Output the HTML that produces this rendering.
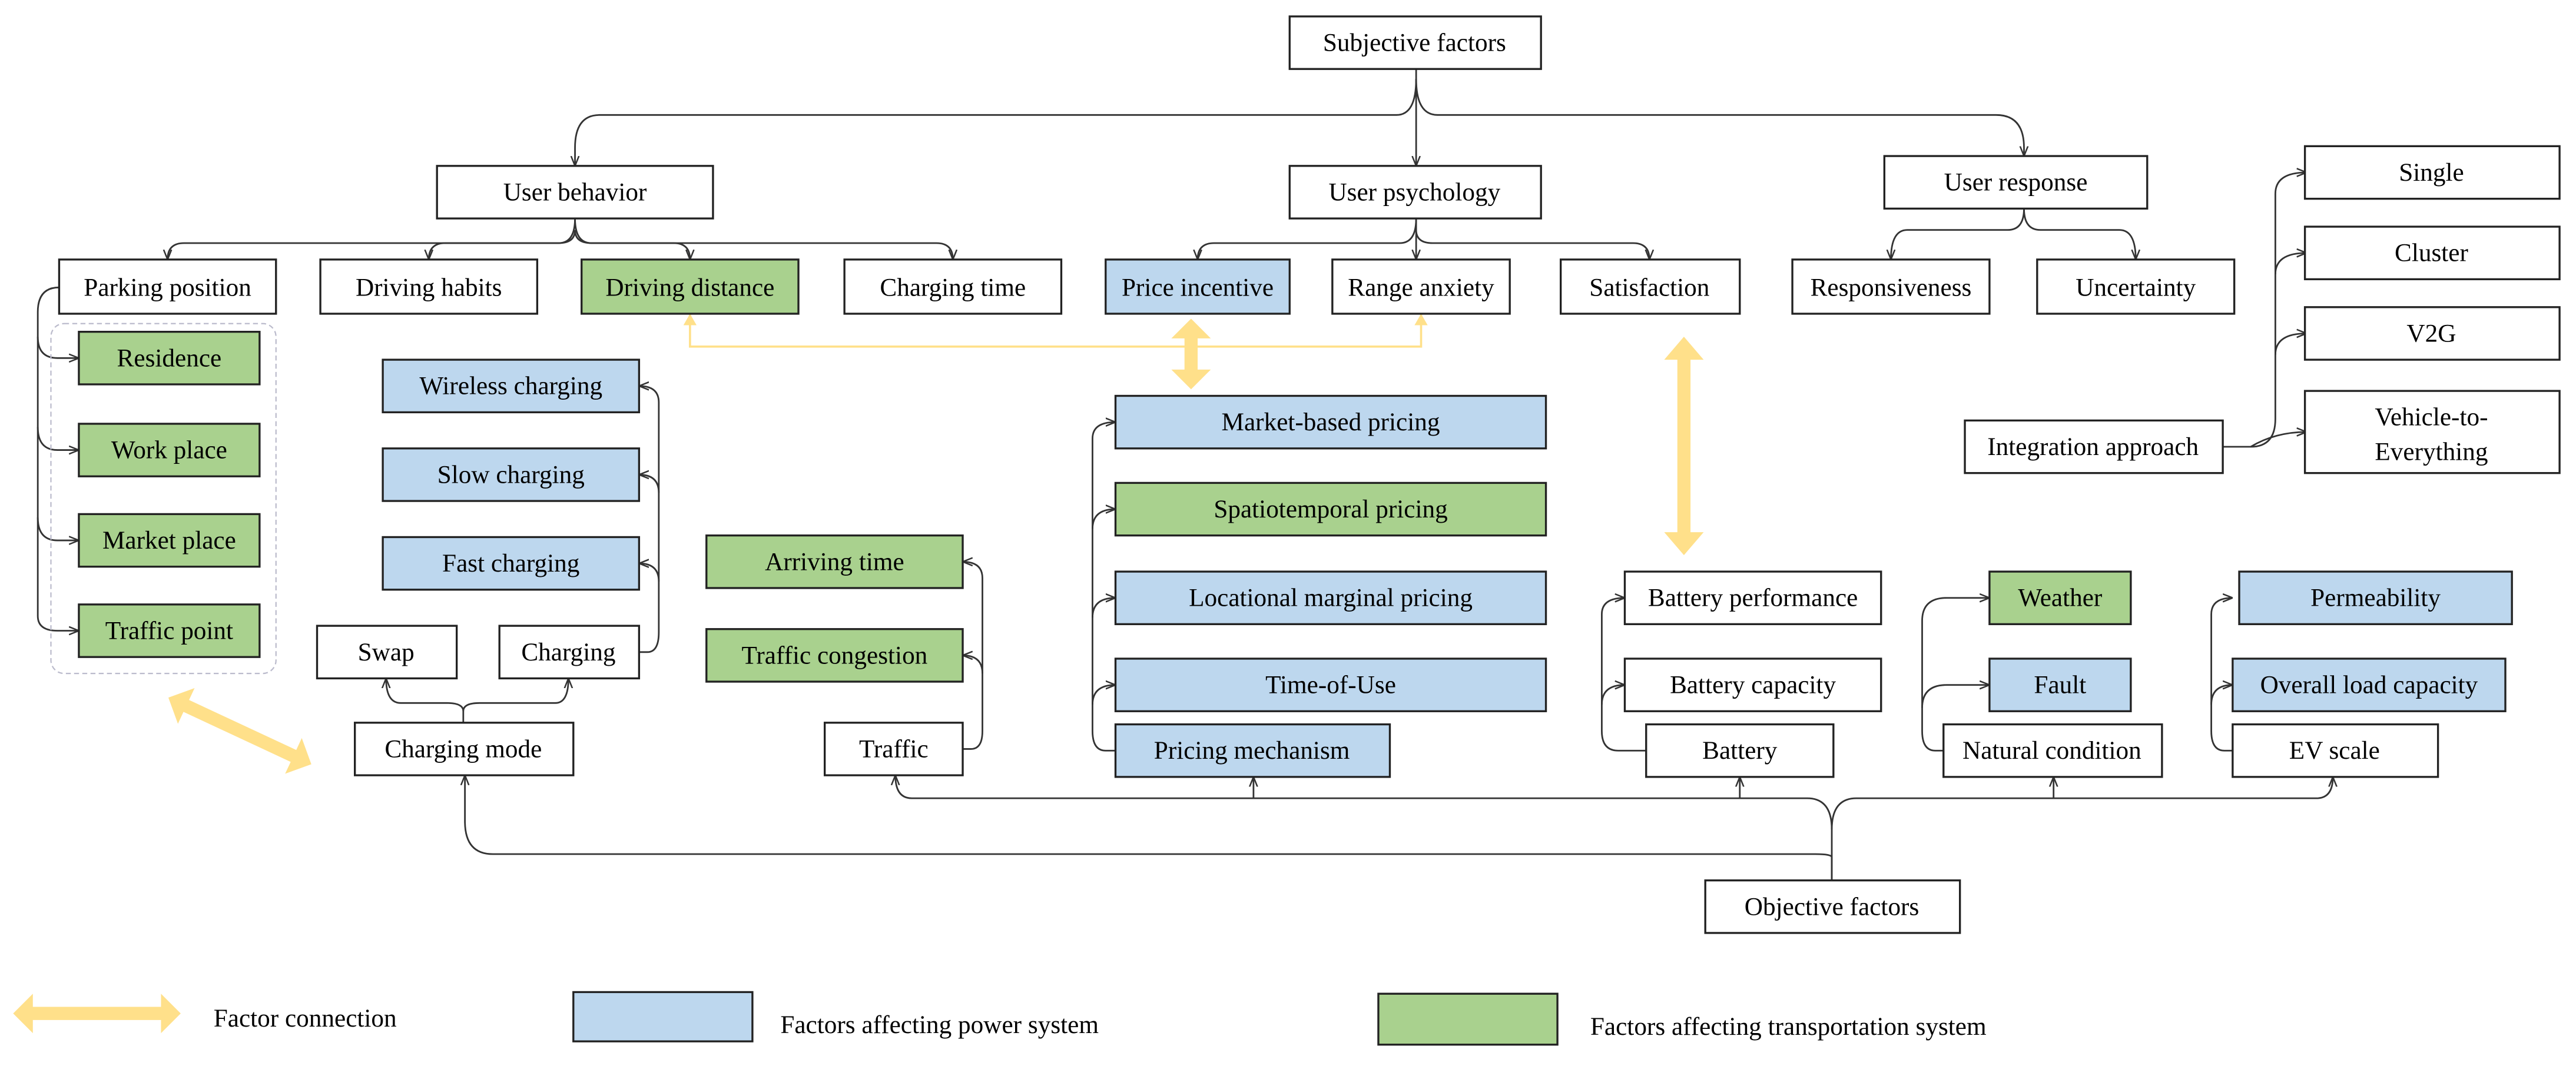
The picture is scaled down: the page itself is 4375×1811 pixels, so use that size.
<!DOCTYPE html>
<html><head><meta charset="utf-8"><style>
html,body{margin:0;padding:0;background:#fff;}
svg{display:block;}
text{font-family:"Liberation Serif","DejaVu Serif",serif;font-size:15.5px;fill:#000;}
.b{stroke:#222;stroke-width:1.2;}
.l{fill:none;stroke:#333;stroke-width:1;}
</style></head><body>
<svg width="4375" height="1811" viewBox="0 0 1568 649" preserveAspectRatio="none" xmlns="http://www.w3.org/2000/svg" font-family="Liberation Serif, DejaVu Serif, serif">
<defs>
<marker id="a" viewBox="0 0 10 10" refX="10" refY="5" markerWidth="6" markerHeight="6" orient="auto-start-reverse">
<path d="M0,1 L10,5 L0,9" fill="none" stroke="#333" stroke-width="1.5"/></marker>
</defs>

<g class="l">
<path d="M862,42 V101" marker-end="url(#a)"/>
<path d="M862,48 Q862,70 850,70 H365 Q350,70 350,90 V101" marker-end="url(#a)"/>
<path d="M862,48 Q862,70 875,70 H1215 Q1232,70 1232,90 V95" marker-end="url(#a)"/>

<path d="M350,133 Q350,148 340,148 H112 Q102,148 102,158" marker-end="url(#a)"/>
<path d="M350,140 Q350,148 340,148 H271 Q261,148 261,158" marker-end="url(#a)"/>
<path d="M350,133 Q350,148 360,148 H410 Q420,148 420,158" marker-end="url(#a)"/>
<path d="M350,140 Q350,148 360,148 H570 Q580,148 580,158" marker-end="url(#a)"/>

<path d="M862,133 Q862,148 852,148 H739 Q729,148 729,158" marker-end="url(#a)"/>
<path d="M862,133 V158" marker-end="url(#a)"/>
<path d="M862,140 Q862,148 872,148 H994 Q1004,148 1004,158" marker-end="url(#a)"/>

<path d="M1232,127 Q1232,140 1222,140 H1161 Q1151,140 1151,158" marker-end="url(#a)"/>
<path d="M1232,127 Q1232,140 1242,140 H1290 Q1300,140 1300,158" marker-end="url(#a)"/>

<path d="M36,175 Q23,175 23,190 V375 Q23,384 35,384 H48" marker-end="url(#a)"/>
<path d="M23,205 Q23,218 35,218 H48" marker-end="url(#a)"/>
<path d="M23,260 Q23,274 35,274 H48" marker-end="url(#a)"/>
<path d="M23,315 Q23,329 35,329 H48" marker-end="url(#a)"/>

<path d="M282,440 V433 Q282,428 272,428 H244 Q235,428 235,413" marker-end="url(#a)"/>
<path d="M282,433 Q282,428 292,428 H338 Q346,428 346,413" marker-end="url(#a)"/>

<path d="M389,397 H394 Q401,397 401,385 V245 Q401,235 389,235" marker-end="url(#a)"/>
<path d="M401,300 Q401,289 389,289" marker-end="url(#a)"/>
<path d="M401,354 Q401,343 389,343" marker-end="url(#a)"/>

<path d="M586,456 H591 Q598,456 598,445 V352 Q598,342 586,342" marker-end="url(#a)"/>
<path d="M598,410 Q598,399 586,399" marker-end="url(#a)"/>

<path d="M679,457 H673 Q665,457 665,445 V267 Q665,257 679,257" marker-end="url(#a)"/>
<path d="M665,322 Q665,310 679,310" marker-end="url(#a)"/>
<path d="M665,376 Q665,364 679,364" marker-end="url(#a)"/>
<path d="M665,429 Q665,417 679,417" marker-end="url(#a)"/>

<path d="M1002,457 H985 Q975,457 975,445 V374 Q975,364 989,364" marker-end="url(#a)"/>
<path d="M975,429 Q975,417 989,417" marker-end="url(#a)"/>

<path d="M1183,457 H1178 Q1170,457 1170,445 V378 Q1170,364 1185,364 H1211" marker-end="url(#a)"/>
<path d="M1170,431 Q1170,417 1185,417 H1211" marker-end="url(#a)"/>

<path d="M1359,457 H1354 Q1346,457 1346,445 V374 Q1346,364 1359,364" marker-end="url(#a)"/>
<path d="M1346,429 Q1346,417 1359,417" marker-end="url(#a)"/>

<path d="M1353,272 H1370 Q1385,272 1385,255 V118 Q1385,105 1404,105" marker-end="url(#a)"/>
<path d="M1385,167 Q1385,154 1404,154" marker-end="url(#a)"/>
<path d="M1385,216 Q1385,203 1404,203" marker-end="url(#a)"/>
<path d="M1370,272 Q1385,263 1404,263" marker-end="url(#a)"/>

<path d="M1115,536 V505 Q1115,486 1100,486 H555 Q545,486 545,472" marker-end="url(#a)"/>
<path d="M763,486 V473" marker-end="url(#a)"/>
<path d="M1059,486 V473" marker-end="url(#a)"/>
<path d="M1115,505 Q1115,486 1130,486 H1410 Q1420,486 1420,473" marker-end="url(#a)"/>
<path d="M1250,486 V473" marker-end="url(#a)"/>
<path d="M1115,536 V522 Q1115,520 1105,520 H300 Q283,520 283,500 V472" marker-end="url(#a)"/>
</g>

<path d="M420,191 V211 H865 V191" fill="none" stroke="#ffe08a" stroke-width="1.3"/>
<path d="M416,198 L420,191 L424,198Z M861,198 L865,191 L869,198Z" fill="#ffe08a"/>

<rect x="31" y="197" width="137" height="213" rx="8" fill="none" stroke="#bbc" stroke-width="0.8" stroke-dasharray="3,2"/>

<g fill="#ffe08a">
<polygon points="725,194 737,206 729,206 729,225 737,225 725,237 713,225 721,225 721,206 713,206"/>
<polygon points="1025,205 1037,219 1029,219 1029,324 1037,324 1025,338 1013,324 1021,324 1021,219 1013,219"/>
<polygon transform="translate(146,445) rotate(25)" points="-48,0 -36,-12 -36,-4 36,-4 36,-12 48,0 36,12 36,4 -36,4 -36,12"/>
<polygon transform="translate(59,617)" points="-51,0 -39,-12 -39,-4 39,-4 39,-12 51,0 39,12 39,4 -39,4 -39,12"/>
</g>

<g class="b">
<rect x="785" y="10" width="153" height="32" fill="#fff"/>
<rect x="266" y="101" width="168" height="32" fill="#fff"/>
<rect x="785" y="101" width="153" height="32" fill="#fff"/>
<rect x="1147" y="95" width="160" height="32" fill="#fff"/>

<rect x="36" y="158" width="132" height="33" fill="#fff"/>
<rect x="195" y="158" width="132" height="33" fill="#fff"/>
<rect x="354" y="158" width="132" height="33" fill="#a9d18e"/>
<rect x="514" y="158" width="132" height="33" fill="#fff"/>
<rect x="673" y="158" width="112" height="33" fill="#bdd7ee"/>
<rect x="811" y="158" width="108" height="33" fill="#fff"/>
<rect x="950" y="158" width="109" height="33" fill="#fff"/>
<rect x="1091" y="158" width="120" height="33" fill="#fff"/>
<rect x="1240" y="158" width="120" height="33" fill="#fff"/>

<rect x="1403" y="89" width="155" height="32" fill="#fff"/>
<rect x="1403" y="138" width="155" height="32" fill="#fff"/>
<rect x="1403" y="187" width="155" height="32" fill="#fff"/>
<rect x="1403" y="238" width="155" height="50" fill="#fff"/>
<rect x="1196" y="256" width="157" height="32" fill="#fff"/>

<rect x="48" y="202" width="110" height="32" fill="#a9d18e"/>
<rect x="48" y="258" width="110" height="32" fill="#a9d18e"/>
<rect x="48" y="313" width="110" height="32" fill="#a9d18e"/>
<rect x="48" y="368" width="110" height="32" fill="#a9d18e"/>

<rect x="233" y="219" width="156" height="32" fill="#bdd7ee"/>
<rect x="233" y="273" width="156" height="32" fill="#bdd7ee"/>
<rect x="233" y="327" width="156" height="32" fill="#bdd7ee"/>
<rect x="193" y="381" width="85" height="32" fill="#fff"/>
<rect x="304" y="381" width="85" height="32" fill="#fff"/>
<rect x="216" y="440" width="133" height="32" fill="#fff"/>

<rect x="430" y="326" width="156" height="32" fill="#a9d18e"/>
<rect x="430" y="383" width="156" height="32" fill="#a9d18e"/>
<rect x="502" y="440" width="84" height="32" fill="#fff"/>

<rect x="679" y="241" width="262" height="32" fill="#bdd7ee"/>
<rect x="679" y="294" width="262" height="32" fill="#a9d18e"/>
<rect x="679" y="348" width="262" height="32" fill="#bdd7ee"/>
<rect x="679" y="401" width="262" height="32" fill="#bdd7ee"/>
<rect x="679" y="441" width="167" height="32" fill="#bdd7ee"/>

<rect x="989" y="348" width="156" height="32" fill="#fff"/>
<rect x="989" y="401" width="156" height="32" fill="#fff"/>
<rect x="1002" y="441" width="114" height="32" fill="#fff"/>

<rect x="1211" y="348" width="86" height="32" fill="#a9d18e"/>
<rect x="1211" y="401" width="86" height="32" fill="#bdd7ee"/>
<rect x="1183" y="441" width="133" height="32" fill="#fff"/>

<rect x="1363" y="348" width="166" height="32" fill="#bdd7ee"/>
<rect x="1359" y="401" width="166" height="32" fill="#bdd7ee"/>
<rect x="1359" y="441" width="125" height="32" fill="#fff"/>

<rect x="1038" y="536" width="155" height="32" fill="#fff"/>

<rect x="349" y="604" width="109" height="30" fill="#bdd7ee"/>
<rect x="839" y="605" width="109" height="31" fill="#a9d18e"/>
</g>

<g text-anchor="middle" font-family="Liberation Serif, DejaVu Serif, serif">
<text x="861" y="31">Subjective factors</text>
<text x="350" y="122">User behavior</text>
<text x="861" y="122">User psychology</text>
<text x="1227" y="116">User response</text>
<text x="102" y="180">Parking position</text>
<text x="261" y="180">Driving habits</text>
<text x="420" y="180">Driving distance</text>
<text x="580" y="180">Charging time</text>
<text x="729" y="180">Price incentive</text>
<text x="865" y="180">Range anxiety</text>
<text x="1004" y="180">Satisfaction</text>
<text x="1151" y="180">Responsiveness</text>
<text x="1300" y="180">Uncertainty</text>
<text x="1480" y="110">Single</text>
<text x="1480" y="159">Cluster</text>
<text x="1480" y="208">V2G</text>
<text x="1480" y="259">Vehicle-to-</text>
<text x="1480" y="280">Everything</text>
<text x="1274" y="277">Integration approach</text>
<text x="103" y="223">Residence</text>
<text x="103" y="279">Work place</text>
<text x="103" y="334">Market place</text>
<text x="103" y="389">Traffic point</text>
<text x="311" y="240">Wireless charging</text>
<text x="311" y="294">Slow charging</text>
<text x="311" y="348">Fast charging</text>
<text x="235" y="402">Swap</text>
<text x="346" y="402">Charging</text>
<text x="282" y="461">Charging mode</text>
<text x="508" y="347">Arriving time</text>
<text x="508" y="404">Traffic congestion</text>
<text x="544" y="461">Traffic</text>
<text x="810" y="262">Market-based pricing</text>
<text x="810" y="315">Spatiotemporal pricing</text>
<text x="810" y="369">Locational marginal pricing</text>
<text x="810" y="422">Time-of-Use</text>
<text x="762" y="462">Pricing mechanism</text>
<text x="1067" y="369">Battery performance</text>
<text x="1067" y="422">Battery capacity</text>
<text x="1059" y="462">Battery</text>
<text x="1254" y="369">Weather</text>
<text x="1254" y="422">Fault</text>
<text x="1249" y="462">Natural condition</text>
<text x="1446" y="369">Permeability</text>
<text x="1442" y="422">Overall load capacity</text>
<text x="1421" y="462">EV scale</text>
<text x="1115" y="557">Objective factors</text>
</g>
<g font-family="Liberation Serif, DejaVu Serif, serif">
<text x="130" y="625">Factor connection</text>
<text x="475" y="629">Factors affecting power system</text>
<text x="968" y="630">Factors affecting transportation system</text>
</g>
</svg>
</body></html>
